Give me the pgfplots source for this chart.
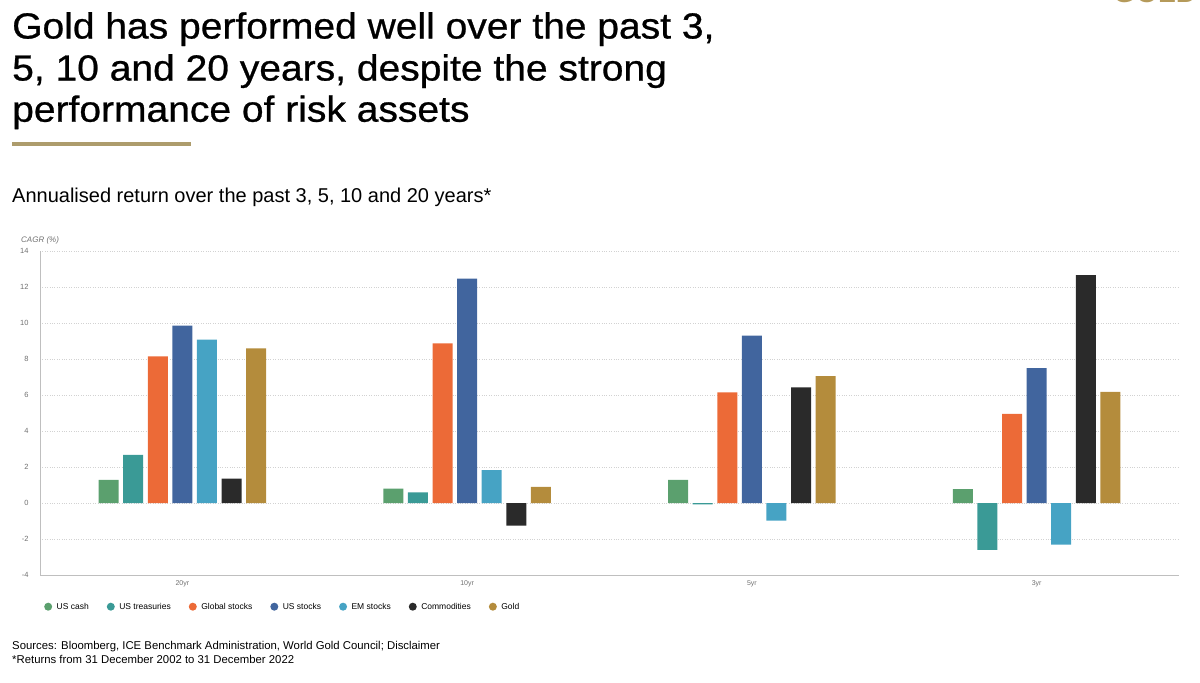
\documentclass[border=0pt]{standalone}
\usepackage{pgfplots}
\pgfplotsset{compat=1.18}
\usepackage{fontspec}
\setmainfont{Liberation Sans}
\newfontfamily\titlefont{Liberation Sans}[FakeBold=0.7]
\definecolor{cCash}{HTML}{5BA06E}
\definecolor{cTreas}{HTML}{3A9A96}
\definecolor{cGlobal}{HTML}{EC6A37}
\definecolor{cUS}{HTML}{41659E}
\definecolor{cEM}{HTML}{46A3C4}
\definecolor{cComm}{HTML}{2A2A2A}
\definecolor{cGold}{HTML}{B48C3C}
\definecolor{cRule}{HTML}{AD9C6C}
\definecolor{cLogo}{HTML}{B59A5A}
\definecolor{cTick}{HTML}{707070}
\pgfplotsset{
  mybar/.style={ybar, bar width=0.0702, draw=none, fill=#1,
    legend image code/.code={\fill[fill=#1] (0pt,0pt) circle (4pt);}},
}
\begin{document}
\begin{tikzpicture}
\useasboundingbox (0,0) rectangle (1200pt,-683pt);
% title
\node[anchor=base west, inner sep=0] at (12pt,-38.5pt) {\scalebox{1}[0.93]{\fontsize{39}{41}\titlefont Gold has performed well over the past 3,}};
\node[anchor=base west, inner sep=0] at (12pt,-80.5pt) {\scalebox{1}[0.93]{\fontsize{39}{41}\titlefont 5, 10 and 20 years, despite the strong}};
\node[anchor=base west, inner sep=0] at (12pt,-121.7pt) {\scalebox{1}[0.93]{\fontsize{39}{41}\titlefont performance of risk assets}};
\fill[cRule] (12pt,-142pt) rectangle (191pt,-146pt);
\node[anchor=base west, inner sep=0] at (12pt,-202.7pt) {\fontsize{20}{24}\selectfont Annualised return over the past 3, 5, 10 and 20 years*};
% logo fragment
\node[anchor=base east, inner sep=0, text=cLogo] at (1197pt,-2.5pt) {\fontsize{29}{30}\selectfont\bfseries GOLD};
% axis label
\node[anchor=west, inner sep=0, text=cTick] at (21pt,-240.7pt) {\fontsize{8}{9}\selectfont\itshape CAGR (\%)};
% sources
\node[anchor=base west, inner sep=0] at (12pt,-649pt) {\fontsize{11.35}{13}\selectfont Sources: Bloomberg, ICE Benchmark Administration, World Gold Council; Disclaimer};
\node[anchor=base west, inner sep=0] at (12pt,-663.3pt) {\fontsize{11.35}{13}\selectfont *Returns from 31 December 2002 to 31 December 2022};
\begin{axis}[
  scale only axis, width=1139pt, height=324pt,
  at={(40pt,-575pt)}, anchor=south west,
  xmin=-0.5, xmax=3.5, ymin=-4, ymax=14,
  axis lines*=left,
  axis line style={-, draw=gray!50, line width=0.8pt},
  major tick length=0pt,
  xtick={0,1,2,3}, xticklabels={20yr,10yr,5yr,3yr},
  ytick={-4,-2,0,2,4,6,8,10,12,14},
  yticklabels={-4,-2,0,2,4,6,8,10,12,14},
  ymajorgrids,
  grid style={dotted, gray!35, line width=0.6pt},
  yticklabel style={font=\fontsize{7.5}{8}\selectfont, text=cTick, xshift=-8pt},
  xticklabel style={font=\fontsize{7}{8}\selectfont, text=cTick, yshift=-2pt},
  legend columns=7,
  legend style={at={(0.0035,-0.0978)}, anchor=west, draw=none, fill=none,
    inner sep=0pt, font=\fontsize{8.5}{10}\selectfont,
    /tikz/every odd column/.append style={column sep=2.5pt},
    /tikz/every even column/.append style={column sep=16pt}},
]
\addplot[mybar=cCash, bar shift=-0.2592] coordinates {(0,1.28) (1,0.80) (2,1.28) (3,0.77)};
\addlegendentry{US cash}
\addplot[mybar=cTreas, bar shift=-0.1728] coordinates {(0,2.67) (1,0.59) (2,-0.08) (3,-2.60)};
\addlegendentry{US treasuries}
\addplot[mybar=cGlobal, bar shift=-0.0864] coordinates {(0,8.15) (1,8.87) (2,6.15) (3,4.95)};
\addlegendentry{Global stocks}
\addplot[mybar=cUS, bar shift=0] coordinates {(0,9.85) (1,12.46) (2,9.30) (3,7.50)};
\addlegendentry{US stocks}
\addplot[mybar=cEM, bar shift=0.0864] coordinates {(0,9.08) (1,1.83) (2,-0.98) (3,-2.31)};
\addlegendentry{EM stocks}
\addplot[mybar=cComm, bar shift=0.1728] coordinates {(0,1.35) (1,-1.26) (2,6.42) (3,12.66)};
\addlegendentry{Commodities}
\addplot[mybar=cGold, bar shift=0.2592] coordinates {(0,8.59) (1,0.90) (2,7.05) (3,6.17)};
\addlegendentry{Gold}
\end{axis}
\end{tikzpicture}
\end{document}
